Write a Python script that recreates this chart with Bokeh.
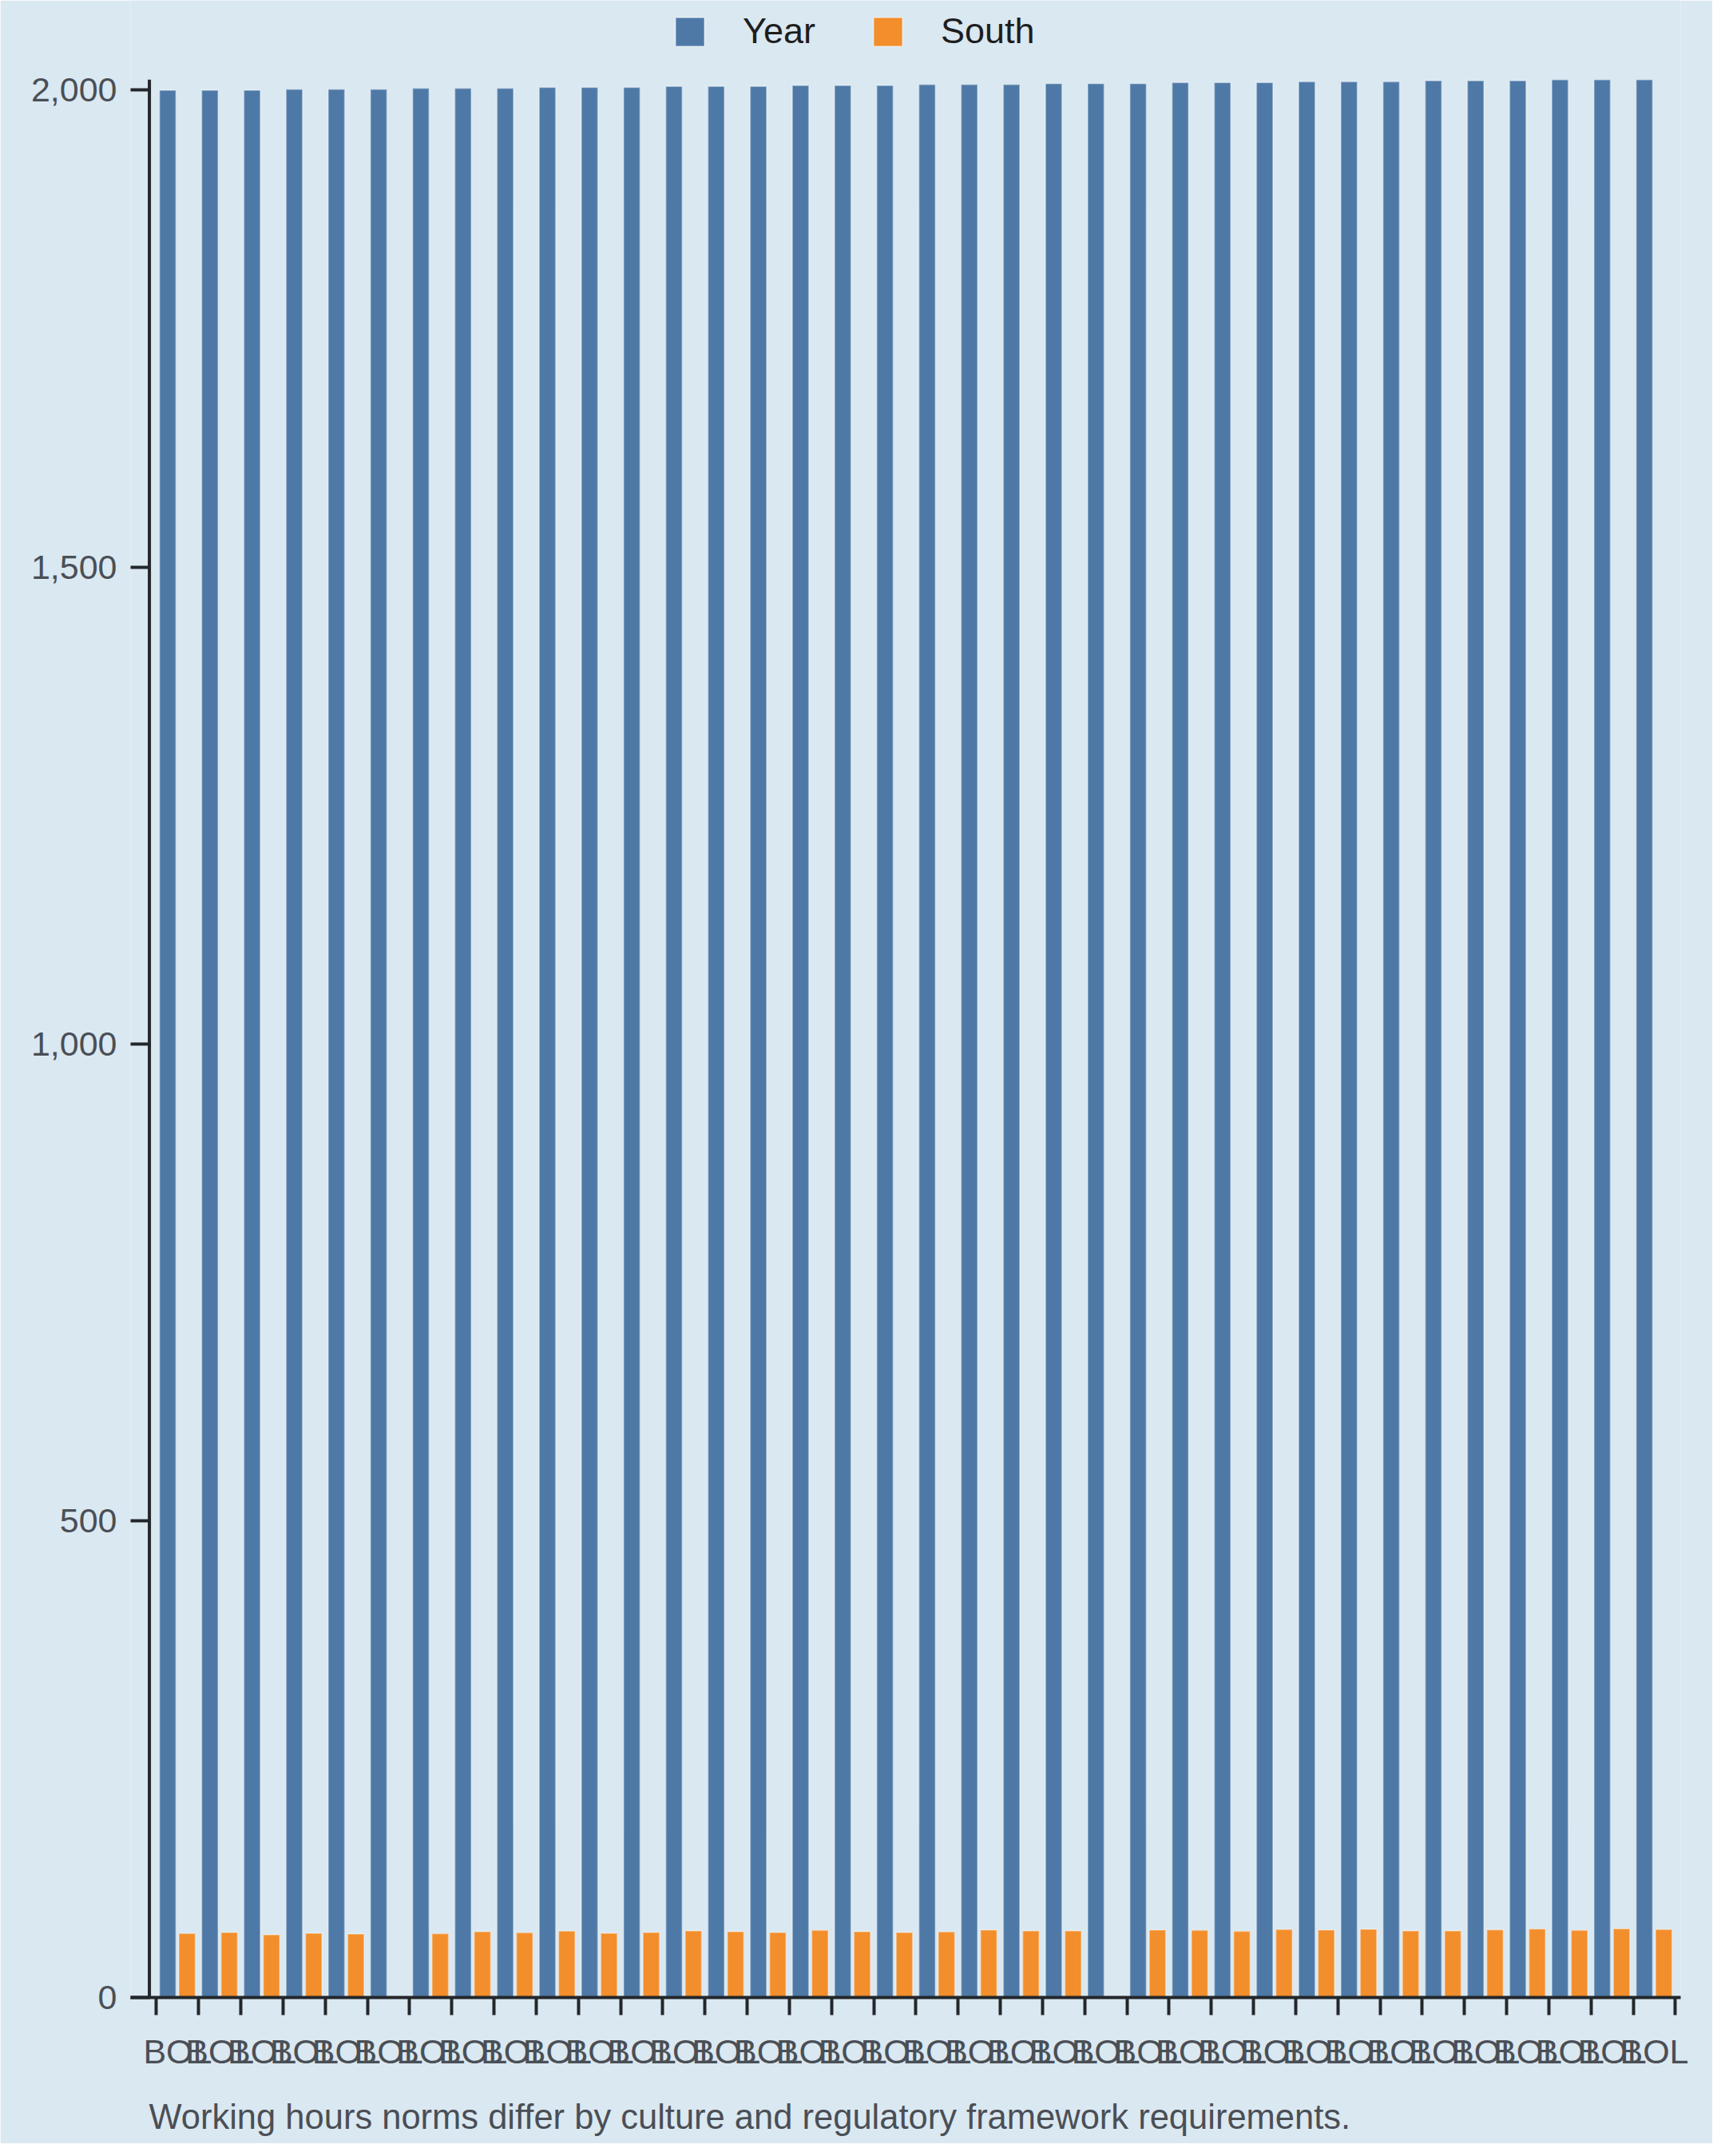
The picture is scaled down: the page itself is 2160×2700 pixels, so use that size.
from bokeh.plotting import figure
from bokeh.models import (ColumnDataSource, Range1d, FixedTicker, NumeralTickFormatter,
                          Legend, LegendItem, Title)
from bokeh.transform import dodge
from bokeh.embed import file_html
from bokeh.resources import INLINE

# ---------------- data ----------------
codes = ["BOL", "BOL", "BOL", "BOL", "BOL", "BOL", "BOL", "BOL", "BOL", "BOL",
         "BOL", "BOL", "BOL", "BOL", "BOL", "BOL", "BOL", "BOL", "BOL", "BOL",
         "BOL", "BOL", "BOL", "BOL", "BOL", "BOL", "BOL", "BOL", "BOL", "BOL",
         "BOL", "BOL", "BOL", "BOL", "BOL", "BOL"]
year = [2000, 2000, 2000, 2001, 2001, 2001, 2002, 2002, 2002, 2003, 2003, 2003,
        2004, 2004, 2004, 2005, 2005, 2005, 2006, 2006, 2006, 2007, 2007, 2007,
        2008, 2008, 2008, 2009, 2009, 2009, 2010, 2010, 2010, 2011, 2011, 2011]
south = [67.1, 68.2, 65.8, 67.4, 66.6, None, 66.9, 69.1, 68.0, 69.7, 67.4, 68.2,
         69.9, 69.1, 68.2, 70.5, 69.1, 68.2, 68.8, 70.8, 69.9, 69.9, None, 70.8,
         70.5, 69.4, 71.3, 70.8, 71.6, 69.9, 69.9, 71.0, 71.9, 70.5, 72.1, 71.3]
y_ticks = [0, 500, 1000, 1500, 2000]
series_names = ["Year", "South"]
caption = "Working hours norms differ by culture and regulatory framework requirements."

# ---------------- styles ----------------
BG = "#dae8f1"
BLUE = "#4e79a7"
ORANGE = "#f28e2b"
AXIS = "#23272b"
TICK_TXT = "#4a4f56"
LEG_TXT = "#1e1e1e"
FONT = "Liberation Sans"
FS = "43px"

idx = list(range(len(codes)))
src_year = ColumnDataSource(dict(idx=idx, code=codes, year=year))
s_idx = [i for i, v in zip(idx, south) if v is not None]
s_val = [v for v in south if v is not None]
src_south = ColumnDataSource(dict(idx=s_idx, south=s_val))

p = figure(width=2144, height=2684, output_backend="svg", toolbar_location=None,
           x_range=Range1d(-0.615, 36.125), y_range=Range1d(0, 2094.2),
           min_border_left=163, min_border_right=40, min_border_top=0,
           min_border_bottom=183,
           background_fill_color=BG, border_fill_color=BG, outline_line_color=None)
p.grid.visible = False

r1 = p.vbar(x=dodge("idx", 0.265), top="year", width=0.39, source=src_year,
            fill_color=BLUE, line_color="white", line_alpha=0.35, line_width=1.8)
r2 = p.vbar(x=dodge("idx", 0.725), top="south", width=0.39, source=src_south,
            fill_color=ORANGE, line_color="white", line_alpha=0.35, line_width=1.8)

# y axis (ticks drawn inward from the frame edge, the axis line itself sits a bit to the right)
ya = p.yaxis[0]
ya.ticker = FixedTicker(ticks=y_ticks)
ya.formatter = NumeralTickFormatter(format="0,0")
ya.axis_line_color = None
ya.major_tick_in = 24
ya.major_tick_out = 0
ya.minor_tick_line_color = None
ya.major_tick_line_width = 4
ya.major_tick_line_color = AXIS
ya.major_label_standoff = 17
ya.major_label_text_font = FONT
ya.major_label_text_font_size = FS
ya.major_label_text_color = TICK_TXT

p.segment(x0=-0.169, y0=0, x1=-0.169, y1=max(year), line_color=AXIS, line_width=4)

# x axis: ticks at band edges (minor), labels at band centres (major)
xa = p.xaxis[0]
xa.ticker = FixedTicker(ticks=[i + 0.5 for i in idx], minor_ticks=list(range(len(codes) + 1)))
xa.major_label_overrides = {i + 0.5: c for i, c in zip(idx, codes)}
xa.axis_line_color = AXIS
xa.axis_line_width = 4
xa.major_tick_in = 0
xa.major_tick_out = 0
xa.major_tick_line_color = None
xa.minor_tick_in = 0
xa.minor_tick_out = 22
xa.minor_tick_line_width = 4
xa.minor_tick_line_color = AXIS
xa.major_label_standoff = 21
xa.major_label_text_font = FONT
xa.major_label_text_font_size = FS
xa.major_label_text_color = TICK_TXT
# blank axis label used only as vertical spacing before the caption
xa.axis_label = " "
xa.axis_label_text_font_size = "2px"
xa.axis_label_standoff = 19

# caption
p.add_layout(Title(text=caption, align="left", offset=23, text_font=FONT,
                   text_font_size="43.5px", text_color=TICK_TXT, text_font_style="normal",
                   standoff=10), "below")

# legend
legend = Legend(items=[LegendItem(label=series_names[0], renderers=[r1]),
                       LegendItem(label=series_names[1], renderers=[r2])],
                orientation="horizontal", location=(678, 2436),
                glyph_width=45, glyph_height=45, label_standoff=44, spacing=68,
                padding=0, margin=0, border_line_color=None, background_fill_alpha=0,
                label_text_font=FONT, label_text_font_size="45px", label_text_color=LEG_TXT)
p.add_layout(legend)

open("out.html", "w").write(file_html(p, INLINE))
